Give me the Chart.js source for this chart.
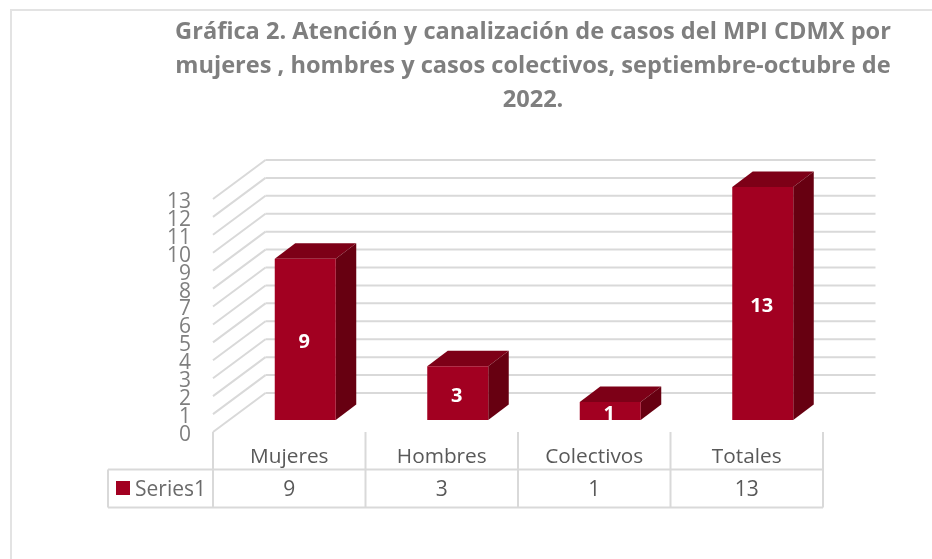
<!DOCTYPE html>
<html>
<head>
<meta charset="utf-8">
<script src="https://cdn.jsdelivr.net/npm/chart.js@4"></script>
<style>
  html, body { margin: 0; padding: 0; background: #fff; }
  #wrap { position: relative; width: 932px; height: 559px; overflow: hidden; }
  #frame { position: absolute; left: 10px; top: 9px; width: 930px; height: 560px; border: 2px solid #e3e3e3; }
  canvas { position: absolute; left: 0; top: 0; }
</style>
</head>
<body>
<div id="wrap">
  <div id="frame"></div>
  <canvas id="chart" width="932" height="559"></canvas>
</div>
<script>
const titleLines = [
  "Gráfica 2. Atención y canalización de casos del MPI CDMX por",
  "mujeres , hombres y casos colectivos, septiembre-octubre de",
  "2022."
];
const categories = ["Mujeres", "Hombres", "Colectivos", "Totales"];
const seriesName = "Series1";
const seriesValues = [9, 3, 1, 13];

const FONT = "'Open Sans', sans-serif";
const GRID = "#d9d9d9";
const FRONT = "#a20021";
const TOP = "#7d0017";
const SIDE = "#670011";

// the walls sit behind the axis plane, the bars somewhere in between
const WALL_DX = 52.5, WALL_DY = -39;
const BAR_DX = 16, BAR_DY = -12;
const DEPTH_DX = 20.5, DEPTH_DY = -15.5;

function line(ctx, x1, y1, x2, y2) {
  ctx.beginPath();
  ctx.moveTo(x1, y1);
  ctx.lineTo(x2, y2);
  ctx.stroke();
}

function poly(ctx, pts, color) {
  ctx.fillStyle = color;
  ctx.beginPath();
  pts.forEach((p, i) => (i ? ctx.lineTo(p[0], p[1]) : ctx.moveTo(p[0], p[1])));
  ctx.closePath();
  ctx.fill();
}

const fake3d = {
  id: "fake3d",
  afterLayout(chart) {
    // title is centred over the plot plus its depth, not the whole canvas
    chart.titleBlock.left = 134;
    chart.titleBlock.right = 932;
  },
  beforeDraw(chart) {
    // y tick labels sit a little under their tick
    chart.scales.y.getLabelItems(chart.chartArea).forEach(item => {
      item.options.translation[1] += 3;
    });
  },
  beforeDatasetsDraw(chart) {
    const { ctx, scales: { x, y } } = chart;

    // ===================== WALLS =====================
    ctx.save();
    ctx.strokeStyle = GRID;
    ctx.lineWidth = 2;
    y.ticks.forEach(t => {
      const py = y.getPixelForValue(t.value);
      line(ctx, x.left, py, x.left + WALL_DX, py + WALL_DY);
      line(ctx, x.left + WALL_DX, py + WALL_DY, x.right + WALL_DX, py + WALL_DY);
    });
    ctx.restore();

    // ===================== BAR SIDES =====================
    ctx.save();
    ctx.translate(BAR_DX, BAR_DY);
    chart.getDatasetMeta(0).data.forEach(bar => {
      const l = bar.x - bar.width / 2, r = bar.x + bar.width / 2;
      poly(ctx, [[l, bar.y], [r, bar.y], [r + DEPTH_DX, bar.y + DEPTH_DY], [l + DEPTH_DX, bar.y + DEPTH_DY]], TOP);
      poly(ctx, [[r, bar.y], [r, bar.base], [r + DEPTH_DX, bar.base + DEPTH_DY], [r + DEPTH_DX, bar.y + DEPTH_DY]], SIDE);
    });
    // stays translated so the library draws the front faces in the same place
  },
  afterDatasetsDraw(chart) {
    const { ctx, scales: { x, y } } = chart;
    const meta = chart.getDatasetMeta(0);

    // labels inside the bars
    ctx.fillStyle = "#fff";
    ctx.font = "bold 20px " + FONT;
    ctx.textAlign = "center";
    ctx.textBaseline = "middle";
    meta.data.forEach((bar, i) => {
      ctx.fillText(String(seriesValues[i]), bar.x - 1, (bar.y + bar.base) / 2 + 3);
    });
    ctx.restore();

    // ===================== DATA TABLE =====================
    const rowTop = 469.5, rowBottom = 507.5, tableLeft = 108;
    const cell = x.width / categories.length;
    ctx.save();
    ctx.strokeStyle = GRID;
    ctx.lineWidth = 2;
    line(ctx, tableLeft, rowTop, x.right, rowTop);
    line(ctx, tableLeft, rowBottom, x.right, rowBottom);
    line(ctx, tableLeft, rowTop, tableLeft, rowBottom);
    for (let i = 0; i <= categories.length; i++) {
      line(ctx, x.left + cell * i, y.bottom, x.left + cell * i, rowBottom);
    }
    ctx.fillStyle = FRONT;
    ctx.fillRect(116, 481, 14, 14);
    ctx.font = "21px " + FONT;
    ctx.textBaseline = "middle";
    ctx.textAlign = "left";
    ctx.fillStyle = "#6a6a6a";
    ctx.fillText(seriesName, 135, 490);
    ctx.textAlign = "center";
    ctx.fillStyle = "#595959";
    seriesValues.forEach((v, i) => {
      ctx.fillText(String(v), x.getPixelForValue(i), 490);
    });
    ctx.restore();
  }
};

new Chart(document.getElementById("chart"), {
  type: "bar",
  data: {
    labels: categories,
    datasets: [{
      label: seriesName,
      data: seriesValues,
      backgroundColor: FRONT,
      categoryPercentage: 1,
      barPercentage: 0.4,
      clip: false
    }]
  },
  options: {
    responsive: false,
    animation: false,
    layout: { padding: { left: 0, right: 109, top: 0, bottom: 0 } },
    plugins: {
      legend: { display: false },
      tooltip: { enabled: false },
      title: {
        display: true,
        text: titleLines,
        color: "#7f7f7f",
        font: { family: FONT, size: 23.6, weight: "bold", lineHeight: 1.44 },
        padding: { top: 15, bottom: 82 }
      }
    },
    scales: {
      x: {
        grid: { display: false },
        border: { display: false },
        ticks: { color: "#595959", font: { family: FONT, size: 20.8 }, padding: 5, maxRotation: 0 },
        afterFit(scale) { scale.height = 127; }
      },
      y: {
        min: 0,
        max: 13,
        grid: { display: false },
        border: { display: false },
        ticks: { stepSize: 1, autoSkip: false, color: "#7f7f7f", font: { family: FONT, size: 21 }, padding: 14 },
        afterFit(scale) { scale.width = 213; }
      }
    }
  },
  plugins: [fake3d]
});
</script>
</body>
</html>
